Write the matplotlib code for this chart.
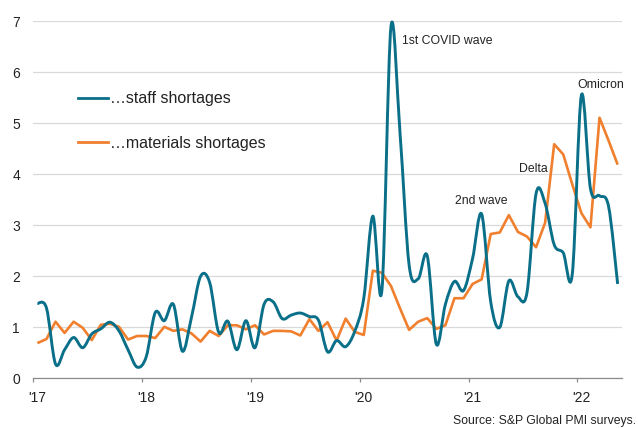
import numpy as np
import matplotlib
matplotlib.use("Agg")
import matplotlib.pyplot as plt
from matplotlib.path import Path
from matplotlib.patches import PathPatch
from matplotlib.lines import Line2D

plt.rcParams['font.family'] = ['Liberation Sans', 'DejaVu Sans']

# monthly readings, Jan 2017 .. May 2022
staff = [1.47, 1.38, 0.28, 0.56, 0.80, 0.60, 0.87, 0.97, 1.10, 0.93, 0.56, 0.22,
         0.42, 1.29, 1.13, 1.45, 0.53, 1.20, 2.00, 1.88, 0.90, 1.12, 0.56, 1.13,
         0.60, 1.45, 1.50, 1.17, 1.24, 1.28, 1.21, 1.14, 0.52, 0.74, 0.62, 0.92,
         1.57, 3.18, 1.73, 6.90, 4.80, 2.22, 1.95, 2.40, 0.67, 1.45, 1.90, 1.72,
         2.35, 3.22, 1.50, 1.00, 1.91, 1.60, 1.68, 3.62, 3.43, 2.62, 2.46, 2.05,
         5.55, 3.72, 3.58, 3.37, 1.85]
materials = [0.69, 0.77, 1.11, 0.89, 1.11, 0.99, 0.75, 1.05, 1.07, 1.01, 0.76, 0.83,
             0.83, 0.79, 1.01, 0.93, 0.96, 0.88, 0.72, 0.93, 0.83, 1.04, 1.04, 0.96,
             1.04, 0.86, 0.93, 0.93, 0.92, 0.84, 1.16, 0.93, 1.10, 0.74, 1.17, 0.91,
             0.85, 2.11, 2.07, 1.81, 1.37, 0.95, 1.11, 1.18, 0.97, 1.04, 1.57, 1.57,
             1.85, 1.94, 2.83, 2.86, 3.20, 2.87, 2.78, 2.57, 3.05, 4.59, 4.39, 3.80,
             3.24, 2.96, 5.11, 4.66, 4.19]
year_labels = ["'17", "'18", "'19", "'20", "'21", "'22"]
series_names = ["\u2026staff shortages", "\u2026materials shortages"]
notes = [("1st COVID wave", 40.2, 6.61), ("Omicron", 59.6, 5.75),
         ("Delta", 53.1, 4.10), ("2nd wave", 46.1, 3.48)]

teal = "#0a6f88"
orange = "#f07f2e"
txt = "#222222"


def smooth_path(x, y):
    # excel-like smoothed line: catmull-rom segments as cubic beziers
    n = len(x)
    verts = [(x[0], y[0])]
    codes = [Path.MOVETO]
    for i in range(n - 1):
        xa, ya = (x[i - 1], y[i - 1]) if i > 0 else (x[i], y[i])
        xb, yb = (x[i + 2], y[i + 2]) if i + 2 < n else (x[i + 1], y[i + 1])
        c1 = (x[i] + (x[i + 1] - xa) / 6, y[i] + (y[i + 1] - ya) / 6)
        c2 = (x[i + 1] - (xb - x[i]) / 6, y[i + 1] - (yb - y[i]) / 6)
        verts += [c1, c2, (x[i + 1], y[i + 1])]
        codes += [Path.CURVE4] * 3
    return Path(verts, codes)


months = np.arange(len(staff))

fig = plt.figure(figsize=(6.38, 4.28), dpi=100)
ax = fig.add_axes([0.0522, 0.1161, 0.9223, 0.8341])

ax.plot(months, materials, color=orange, lw=1.9, zorder=3,
        solid_joinstyle='round', solid_capstyle='butt')
ax.add_patch(PathPatch(smooth_path(months, staff), fill=False, edgecolor=teal,
                       lw=2.1, zorder=4, clip_on=False, joinstyle='round'))

ax.set_xlim(-0.45, 64.45)
ax.set_ylim(0, 7)
ax.set_yticks(range(8))
ax.yaxis.grid(True, color="#d9d9d9", lw=0.9)
ax.set_axisbelow(True)
ax.tick_params(axis='y', length=0, pad=9.5, labelsize=10, labelcolor=txt)

ax.set_xticks(np.arange(0, 61, 12))
ax.set_xticklabels(year_labels)
ax.set_xticks(np.arange(0, 61, 12) - 0.45, minor=True)
ax.tick_params(axis='x', which='major', length=0, pad=9, labelsize=10, labelcolor=txt)
ax.tick_params(axis='x', which='minor', length=3.2, width=0.9, color="#8c8c8c")

for s in ['top', 'right', 'left']:
    ax.spines[s].set_visible(False)
ax.spines['bottom'].set_color("#8c8c8c")
ax.spines['bottom'].set_linewidth(0.9)

for label, x, y in notes:
    ax.text(x, y, label, fontsize=8.8, color=txt, ha='left', va='center')

handles = [Line2D([], [], color=teal, lw=2.0), Line2D([], [], color=orange, lw=2.0)]
ax.legend(handles, series_names, loc='upper left', bbox_to_anchor=(0.0755, 0.804),
          frameon=False, fontsize=11.5, handlelength=1.9, handletextpad=0.15,
          labelspacing=1.85, borderpad=0, borderaxespad=0, labelcolor=txt)

fig.text(0.997, 1 - 420.7 / 428, "Source: S&P Global PMI surveys.", fontsize=8.8,
         color=txt, ha='right', va='center')

fig.savefig("out.png", dpi=100)
